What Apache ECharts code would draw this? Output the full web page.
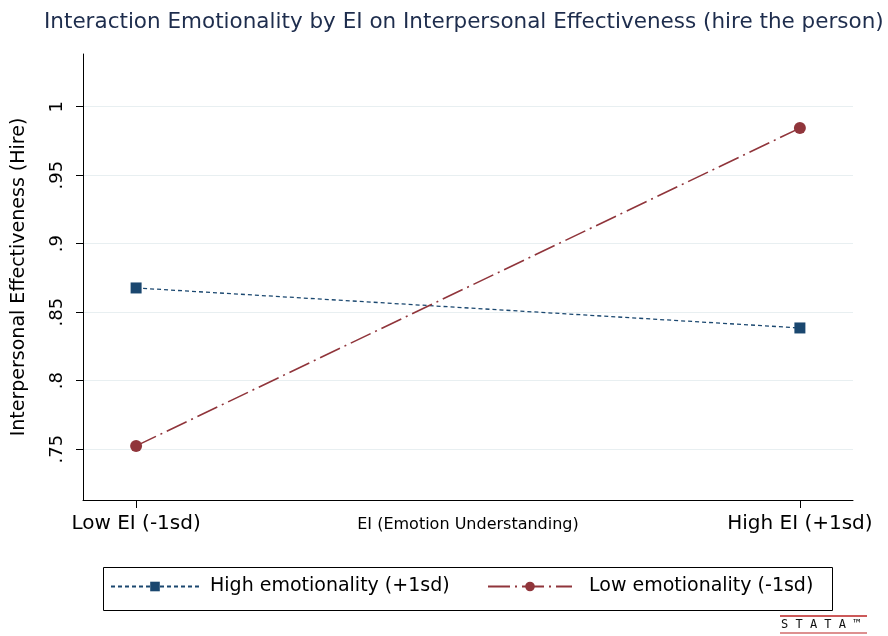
<!DOCTYPE html>
<html>
<head>
<meta charset="utf-8">
<script src="https://cdn.jsdelivr.net/npm/echarts@6/dist/echarts.min.js"></script>
<style>
html, body { margin: 0; padding: 0; background: #fff; }
#chart { width: 888px; height: 636px; }
</style>
</head>
<body>
<div id="chart"></div>
<script>
// data
var xPositions = [0, 1];
var xLabels = ['Low EI (-1sd)', 'High EI (+1sd)'];
var highEmo = [0.8677, 0.8385];
var lowEmo = [0.7524, 0.9844];
var yTicks = [0.75, 0.8, 0.85, 0.9, 0.95, 1];
var seriesNames = ['High emotionality (+1sd)', 'Low emotionality (-1sd)'];

function pairs(ys) {
    return xPositions.map(function (x, i) { return [x, ys[i]]; });
}

var font = 'DejaVu Sans, Liberation Sans, sans-serif';
var myChart = echarts.init(document.getElementById('chart'));

var option = {
    backgroundColor: '#fff',
    animation: false,
    textStyle: { fontFamily: font },
    title: {
        text: 'Interaction Emotionality by EI on Interpersonal Effectiveness (hire the person)',
        left: 39,
        top: 6,
        textStyle: { color: '#1e2d4d', fontSize: 21.5, fontWeight: 'normal', fontFamily: font }
    },
    grid: { left: 83, right: 35, top: 54, bottom: 136, outerBoundsMode: 'none' },
    legend: [
        {
            left: 110,
            top: 577,
            itemWidth: 88,
            itemHeight: 12,
            padding: 0,
            textStyle: { color: '#000', fontSize: 19, fontFamily: font, padding: [0, 0, 0, 6] },
            data: [seriesNames[0]]
        },
        {
            left: 487,
            top: 577,
            itemWidth: 84,
            itemHeight: 12,
            padding: 0,
            textStyle: { color: '#000', fontSize: 19, fontFamily: font, padding: [0, 0, 0, 12] },
            data: [seriesNames[1]]
        }
    ],
    xAxis: {
        type: 'value',
        min: -0.08,
        max: 1.08,
        name: 'EI (Emotion Understanding)',
        nameLocation: 'middle',
        nameGap: 17,
        nameMoveOverlap: false,
        nameTextStyle: { color: '#000', fontSize: 16, fontFamily: font },
        axisLine: { onZero: false, lineStyle: { color: '#000', width: 1 } },
        axisTick: { show: true, length: 8, customValues: xPositions, lineStyle: { color: '#000' } },
        axisLabel: {
            customValues: xPositions,
            color: '#000',
            fontSize: 20,
            margin: 14,
            formatter: function (v) { return xLabels[xPositions.indexOf(v)] || ''; }
        },
        splitLine: { show: false }
    },
    yAxis: {
        type: 'value',
        min: 0.7129,
        max: 1.0385,
        name: 'Interpersonal Effectiveness (Hire)',
        nameLocation: 'middle',
        nameGap: 54,
        nameMoveOverlap: false,
        nameTextStyle: { color: '#000', fontSize: 19, fontFamily: font },
        axisLine: { show: true, onZero: false, lineStyle: { color: '#000', width: 1 } },
        axisTick: { show: true, length: 7, customValues: yTicks, lineStyle: { color: '#000' } },
        axisLabel: {
            customValues: yTicks,
            rotate: 90,
            color: '#000',
            fontSize: 18,
            margin: 17,
            formatter: function (v) { return String(+v.toFixed(2)).replace(/^0/, ''); }
        },
        splitLine: { show: true, lineStyle: { color: '#e8eff1', width: 1 } }
    },
    series: [
        {
            name: seriesNames[0],
            type: 'line',
            data: pairs(highEmo),
            symbol: 'rect',
            symbolSize: 11,
            color: '#1a476f',
            lineStyle: { color: '#1a476f', width: 1.3, type: [4, 3] },
            itemStyle: { color: '#1a476f' }
        },
        {
            name: seriesNames[1],
            type: 'line',
            data: pairs(lowEmo),
            symbol: 'circle',
            symbolSize: 12,
            color: '#90353b',
            lineStyle: { color: '#90353b', width: 1.6, type: [22, 5, 2, 5] },
            itemStyle: { color: '#90353b' }
        }
    ],
    graphic: [
        {
            type: 'rect',
            shape: { x: 103.5, y: 567.5, width: 729, height: 43 },
            style: { fill: 'none', stroke: '#000', lineWidth: 1 }
        },
        {
            type: 'line',
            shape: { x1: 780, y1: 616, x2: 867, y2: 616 },
            style: { stroke: '#b22', lineWidth: 1.5 }
        },
        {
            type: 'line',
            shape: { x1: 780, y1: 633, x2: 867, y2: 633 },
            style: { stroke: '#b22', lineWidth: 1.2 }
        },
        {
            type: 'text',
            left: 781,
            top: 619,
            style: { text: 'S T A T A ™', fill: '#111', fontSize: 12, fontFamily: 'DejaVu Sans Mono' }
        }
    ]
};
myChart.setOption(option);
</script>
</body>
</html>
